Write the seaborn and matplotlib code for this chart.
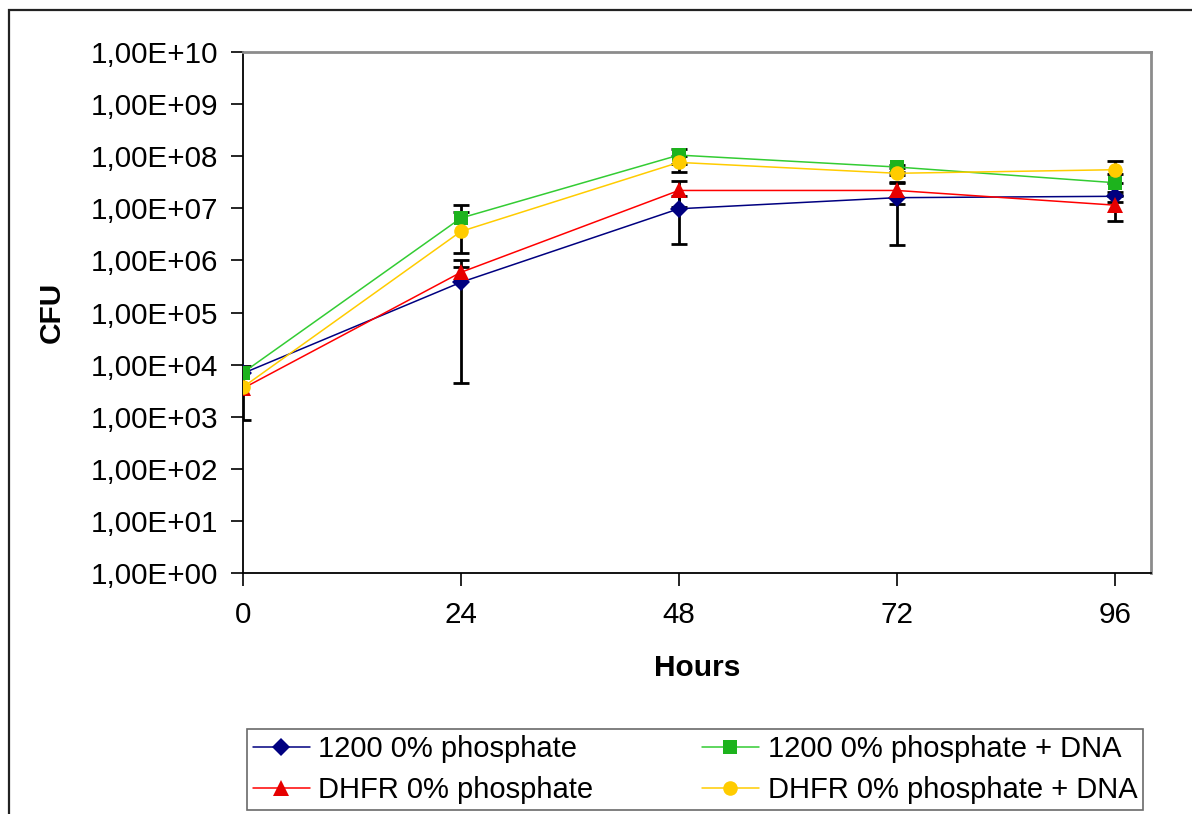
import numpy as np
import pandas as pd
import matplotlib
matplotlib.use("Agg")
import matplotlib.pyplot as plt
from matplotlib.patches import Rectangle
from matplotlib.ticker import FixedLocator, FuncFormatter, NullLocator
import seaborn as sns

# ---------------- data ----------------
hours = [0, 24, 48, 72, 96]
series_names = ["1200 0% phosphate", "1200 0% phosphate + DNA",
                "DHFR 0% phosphate", "DHFR 0% phosphate + DNA"]

cfu_1200 = [6.8e3, 3.8e5, 9.8e6, 1.6e7, 1.7e7]
cfu_1200_dna = [7.0e3, 6.5e6, 1.05e8, 6.2e7, 3.1e7]
cfu_dhfr = [3.5e3, 5.9e5, 2.2e7, 2.2e7, 1.15e7]
cfu_dhfr_dna = [3.7e3, 3.6e6, 7.6e7, 4.7e7, 5.5e7]

# error bar ends (absolute CFU); nan = not visible
lo_1200 = [870, 4.5e3, 2.1e6, 2.0e6, 1.35e7]
hi_1200 = [9.5e3, 7.6e5, 1.75e7, 3.0e7, 2.05e7]
lo_1200_dna = [np.nan, 1.38e6, 7.0e7, 6.0e7, 1.7e7]
hi_1200_dna = [np.nan, 1.18e7, 1.4e8, 6.7e7, 4.5e7]
lo_dhfr = [np.nan, np.nan, 1.07e7, 1.2e7, 5.6e6]
hi_dhfr = [np.nan, 1.0e6, 3.3e7, 3.2e7, 1.8e7]
lo_dhfr_dna = [np.nan, np.nan, 4.9e7, 4.4e7, 3.0e7]
hi_dhfr_dna = [np.nan, 8.5e6, 1.03e8, 5.0e7, 8.0e7]

ytick_vals = [1e0, 1e1, 1e2, 1e3, 1e4, 1e5, 1e6, 1e7, 1e8, 1e9, 1e10]

# ---------------- build frame ----------------
values = [cfu_1200, cfu_1200_dna, cfu_dhfr, cfu_dhfr_dna]
lows = [lo_1200, lo_1200_dna, lo_dhfr, lo_dhfr_dna]
highs = [hi_1200, hi_1200_dna, hi_dhfr, hi_dhfr_dna]
rows = []
for name, vals in zip(series_names, values):
    for h, v in zip(hours, vals):
        rows.append({"Hours": h, "CFU": v, "Series": name})
df = pd.DataFrame(rows)

palette = {series_names[0]: "#000080", series_names[1]: "#33CC33",
           series_names[2]: "#FF0000", series_names[3]: "#FFCC00"}
marker_face = {series_names[0]: "#000080", series_names[1]: "#1DB31D",
               series_names[2]: "#E60000", series_names[3]: "#FFCC00"}
markers = {series_names[0]: "D", series_names[1]: "s",
           series_names[2]: "^", series_names[3]: "o"}
msize = {series_names[0]: 9.5, series_names[1]: 9.5, series_names[2]: 11,
         series_names[3]: 10.5}

sns.set_theme(style="white")
plt.rcParams["font.family"] = ["Liberation Sans", "DejaVu Sans"]
plt.rcParams["text.color"] = "black"
plt.rcParams["axes.labelcolor"] = "black"
plt.rcParams["xtick.color"] = "black"
plt.rcParams["ytick.color"] = "black"

fig = plt.figure(figsize=(11.92, 8.14), dpi=100)
ax = fig.add_axes([243 / 1192, 241 / 814, 908 / 1192, 521 / 814])

# error bars (drawn below markers)
for name, lo, hi, vals in zip(series_names, lows, highs, values):
    for h, v, l, u in zip(hours, vals, lo, hi):
        if not np.isnan(u):
            ax.vlines(h, v, u, color="black", lw=2.0, zorder=2)
            ax.plot([h], [u], marker="_", ms=11, mew=2.0, color="black", zorder=2)
        if not np.isnan(l):
            ax.vlines(h, l, v, color="black", lw=2.0, zorder=2)
            ax.plot([h], [l], marker="_", ms=11, mew=2.0, color="black", zorder=2)

for name in series_names:
    sub = df[df["Series"] == name]
    sns.lineplot(data=sub, x="Hours", y="CFU", ax=ax, color=palette[name],
                 lw=1.1, marker=markers[name], markersize=msize[name],
                 markerfacecolor=marker_face[name], markeredgecolor=marker_face[name],
                 markeredgewidth=0, label=name, legend=False, zorder=3)

ax.set_yscale("log")
ax.set_ylim(1e0, 1e10)
ax.set_xlim(0, 100)
ax.yaxis.set_major_locator(FixedLocator(ytick_vals))
ax.yaxis.set_minor_locator(NullLocator())
ax.yaxis.set_major_formatter(FuncFormatter(lambda v, p: "1,00E+%02d" % int(round(np.log10(v)))))
ax.set_xticks(hours)
ax.set_xticklabels([str(h) for h in hours])

ax.tick_params(axis="both", which="major", direction="out", length=9, width=1.2,
               color="black", labelcolor="black", labelsize=21.3, left=True, bottom=True)
ax.tick_params(axis="y", pad=9)
ax.tick_params(axis="x", pad=11)

for side in ["left", "bottom"]:
    ax.spines[side].set_color("black")
    ax.spines[side].set_linewidth(1.3)
for side in ["top", "right"]:
    ax.spines[side].set_color("#8c8c8c")
    ax.spines[side].set_linewidth(2.0)

ax.set_xlabel("Hours", fontsize=21.5, fontweight="bold", labelpad=18, color="black")
ax.set_ylabel("CFU", fontsize=21.5, fontweight="bold", labelpad=18, color="black")
ax.grid(False)

# outer chart frame
fig.patches.append(Rectangle((9 / 1192, -0.5), 2.0, 1.5 - 10 / 814,
                             transform=fig.transFigure, fill=False,
                             edgecolor="#222222", lw=1.6, zorder=0))

handles, labels = ax.get_legend_handles_labels()
order = [0, 2, 1, 3]
leg = fig.legend([handles[i] for i in order], [labels[i] for i in order],
                 loc="lower left", bbox_to_anchor=(247 / 1192, 4 / 814, 896 / 1192, 93 / 814),
                 bbox_transform=fig.transFigure, mode="expand", ncol=2,
                 fontsize=21, frameon=True, fancybox=False, borderaxespad=0,
                 handlelength=1.95, handletextpad=0.3, borderpad=0.2,
                 labelspacing=0.45, columnspacing=1.0)
for t in leg.get_texts():
    t.set_color("black")
leg.get_frame().set_edgecolor("#444444")
leg.get_frame().set_linewidth(1.2)

fig.savefig("out.png", dpi=100, facecolor="white")
